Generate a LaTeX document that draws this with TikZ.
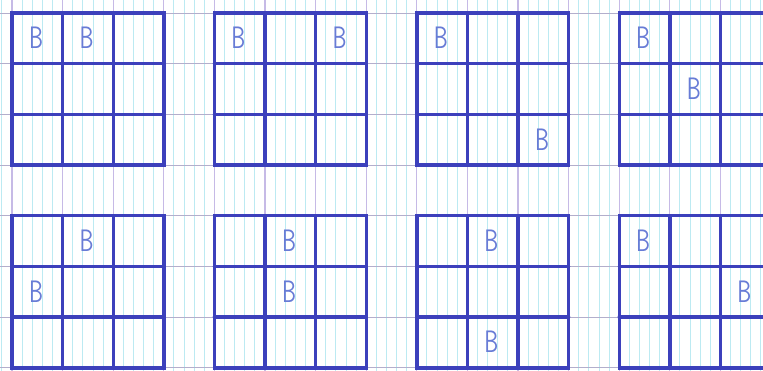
\documentclass[tikz,border=0pt]{standalone}
\usepackage{tikz}
\usetikzlibrary{positioning}
\definecolor{ink}{RGB}{60,64,188}
\definecolor{inklight}{RGB}{104,124,214}
\definecolor{papercyan}{RGB}{188,234,242}
\definecolor{paperlilac}{RGB}{198,186,230}
\definecolor{paperrow}{RGB}{178,174,204}
\newcommand{\hb}{\scalebox{0.72}[1]{B}}

\begin{document}
\begin{tikzpicture}[
    x=1pt, y=-1pt,
    font=\sffamily\fontsize{31}{31}\selectfont,
    minorline/.style={draw=papercyan, line width=0.9pt},
    majorline/.style={draw=paperlilac, line width=1.1pt},
    rowline/.style={draw=paperrow, line width=0.9pt},
    inkline/.style={draw=ink, line width=3.4pt, line cap=round},
    bletter/.style={text=inklight, inner sep=0pt},
]
    % page
    \fill[white] (0,0) rectangle (763,371);
    \useasboundingbox (0,0) rectangle (763,371);
    \clip (0,0) rectangle (763,371);

    % squared paper
    \foreach \i in {-2,...,76}
        \draw[minorline] ({12+10.12*\i},0) -- ++(0,371);
    \foreach \k in {0,...,15}
        \draw[majorline] ({12+50.6*\k},0) -- ++(0,371);
    \foreach \k in {0,...,7}
        \draw[rowline] (0,{13+50.7*\k}) -- ++(763,0);

    % the eight 3x3 boards, two B each
    \foreach \g/\gx/\gy/\ra/\ca/\rb/\cb in {
        ga/0/0/0/0/0/1, gb/4/0/0/0/0/2, gc/8/0/0/0/2/2, gd/12/0/0/0/1/1,
        ge/0/4/0/1/1/0, gf/4/4/0/1/1/1, gg/8/4/0/1/2/1, gh/12/4/0/0/1/2}
    {
        \begin{scope}[shift={({12+50.6*\gx},{13+50.7*\gy})}]
            \coordinate (\g) at (0,0);
            \draw[inkline] (\g) rectangle (151.8,152.1);
            \foreach \k in {1,2} {
                \draw[inkline] ({50.6*\k},0) -- ({50.6*\k},152.1);
                \draw[inkline] (0,{50.7*\k}) -- (151.8,{50.7*\k});
            }
            \node[bletter] (\g-1) at ({50.6*\ca+24},{50.7*\ra+25}) {\hb};
            \node[bletter] (\g-2) at ({50.6*\cb+24},{50.7*\rb+25}) {\hb};
        \end{scope}
    }
\end{tikzpicture}
\end{document}
